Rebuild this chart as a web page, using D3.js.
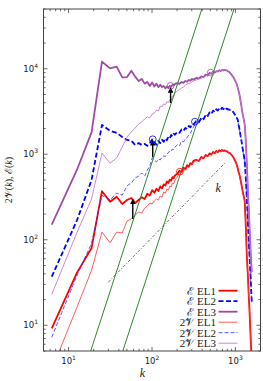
<!DOCTYPE html>
<html><head><meta charset="utf-8">
<script src="https://cdn.jsdelivr.net/npm/d3@7"></script>
<style>body{margin:0;background:#fff;} svg{display:block;}</style>
</head><body>
<svg id="c" width="263" height="381"></svg>
<script>
const kValues = [6.28,12.57,18.85,25.13,31.42,37.70,43.98,50.27,56.55,62.83,
69.12,75.40,81.68,87.96,94.25,100.5,106.8,113.1,119.4,125.7,
131.9,138.2,144.5,150.8,157.1,163.4,169.6,175.9,182.2,188.5,
201.1,213.6,226.2,238.8,251.3,263.9,276.5,289.0,301.6,314.2,
339.3,364.4,389.6,414.7,439.8,465.0,490.1,515.2,540.4,565.5,
590.6,615.8,640.9,666.0,691.2,716.3,741.4,766.5,791.7,816.8,
842.0,867.1,892.2,917.3,942.5,967.6,992.7,1018,1043,1068,
1093,1118,1144,1169,1194,1219,1244,1269,1294,1319,
1345,1370,1395,1420,1445,1470,1495,1520,1546,1571];

const eEL1 = [9.2,41,80,370,279,319,262,292,308,269,
292,315,300,345,330,380,355,395,372,420,
400,445,430,480,462,505,490,540,525,565,
590,640,620,695,670,745,720,785,765,835,
860,835,930,895,980,945,1025,990,1065,1025,
1095,1060,1115,1080,1125,1090,1110,1080,1085,1050,
1040,1020,990,960,925,880,840,800,740,680,
620,575,520,470,420,375,340,310,285,185,
114,66,47,34,22,16.5,11,7.6,5.3,3.7];

const eEL2 = [37,168,500,2200,1875,1775,1593,1470,1440,1285,
1350,1285,1320,1255,1350,1490,1390,1290,1440,1350,
1480,1400,1530,1460,1600,1540,1680,1620,1740,1690,
1830,1780,1950,1880,2030,1970,2140,2070,2240,2230,
2440,2360,2660,2560,2890,2790,3090,2970,3240,3120,
3360,3250,3440,3330,3500,3380,3490,3370,3420,3340,
3340,3290,3250,3180,3120,3000,2880,2760,2640,2530,
2200,1980,1720,1540,1350,1180,1050,940,840,620,
450,300,220,145,100,72,52,38,26,19];

const eEL3 = [150,655,1800,12100,10100,10600,7940,8000,9500,8090,
7200,7600,6700,7000,6300,6900,6200,6700,6100,6500,
6100,6300,5900,6200,6000,6300,6150,6460,6400,6650,
6800,6650,7000,6850,7200,7050,7400,7250,7600,7450,
7800,7650,8150,7950,8550,8350,8950,8750,9250,9050,
9400,9250,9600,9400,9700,9550,9700,9550,9550,9350,
9150,8900,8600,8300,8000,7650,7250,6900,6500,6000,
5500,5000,4400,3900,3400,3000,2700,2500,2200,1700,
1200,800,520,330,230,160,110,75,55,42];

const v2EL1 = [3.0,16.2,44,123,92,123,120,166,175,195,
211,205,235,248,269,262,285,300,290,325,
315,362,350,393,380,425,415,461,450,500,
540,610,600,660,650,715,700,760,750,810,
850,830,915,895,960,945,1010,990,1045,1025,
1080,1060,1100,1085,1110,1090,1100,1080,1075,1050,
1035,1015,985,955,920,875,835,795,735,675,
615,570,515,465,415,372,338,308,282,182,
112,65,46,33,21.5,16,10.8,7.5,5.2,3.6];

const v2EL2 = [7.25,38,91,330,292,352,333,427,461,528,
555,604,555,655,730,905,858,812,880,858,
930,956,940,1010,1040,1095,1080,1150,1130,1215,
1285,1255,1430,1400,1505,1560,1690,1760,1925,2080,
2330,2440,2560,2660,2790,2900,2980,3060,3160,3200,
3280,3320,3360,3400,3420,3450,3430,3420,3390,3370,
3330,3290,3240,3170,3110,2990,2870,2750,2630,2520,
2190,1970,1710,1530,1340,1170,1040,930,830,610,
445,295,215,142,98,70,51,37,25.5,18.5];

const v2EL3 = [23,121,300,1035,785,905,1215,1593,1825,2030,
2260,2380,2590,2740,2660,2950,3040,3300,3200,3670,
3600,3880,3800,4100,4050,4310,4250,4810,4700,5210,
5500,5700,5960,6100,6400,6650,6700,6830,7050,7200,
7400,7600,7750,8000,8200,8500,8600,8900,9100,9200,
9300,9350,9450,9550,9600,9650,9650,9600,9500,9300,
9100,8850,8550,8250,7950,7600,7200,6850,6450,5950,
5450,4950,4350,3850,3350,2950,2650,2450,2150,1650,
1150,770,500,320,225,155,105,72,52,40];

// reference lines (k^3 and k)
const cubeLineA = [[18.4,5],[396,50000]];
const cubeLineB = [[44.7,5],[963,50000]];
const linearLine = [[30,32],[750,790]];
const linearLabel = "k";

// arrows from 2V to E
const arrowK = [58.8, 102, 167];
const arrowFrom = [175, 923, 3980];
const arrowTo = [298, 1450, 6000];

// circle markers
const circleK = [216, 327, 507, 102, 167];
const circleV = [625, 2405, 9000, 1497, 6300];
const circleSeries = [0, 1, 2, 1, 2];

const xTickValues = [10, 100, 1000];
const yTickValues = [10, 100, 1000, 10000];
const legendLabels = ["ℰ EL1","ℰ EL2","ℰ EL3","2𝒱 EL1","2𝒱 EL2","2𝒱 EL3"];

const seriesStyles = [
  {color:"#ff0000", width:1.8, dash:null},
  {color:"#0000ff", width:1.8, dash:"5,2.5"},
  {color:"#a24aa8", width:1.8, dash:null},
  {color:"#ff3535", width:0.8, dash:null},
  {color:"#2a2aff", width:0.8, dash:"4,2"},
  {color:"#c87ccc", width:0.9, dash:null}
];
const seriesValues = [eEL1, eEL2, eEL3, v2EL1, v2EL2, v2EL3];

const svg = d3.select("#c");
const L = 43.5, R = 260.5, T = 9, B = 351;
const x = d3.scaleLog().domain([5, 2000]).range([L, R]);
const y = d3.scaleLog().domain([5, 50000]).range([B, T]);

svg.append("defs").append("clipPath").attr("id","clip")
  .append("rect").attr("x",L).attr("y",T).attr("width",R-L).attr("height",B-T);
const defs = svg.select("defs");
defs.append("marker").attr("id","ah").attr("viewBox","0 0 10 10")
  .attr("refX",9).attr("refY",5).attr("markerWidth",4).attr("markerHeight",4)
  .attr("orient","auto").append("path").attr("d","M0,0L10,5L0,10z").attr("fill","#000");

const line = d3.line().x(d=>x(d[0])).y(d=>y(d[1]));
const plot = svg.append("g").attr("clip-path","url(#clip)");

// series
seriesValues.forEach((vals,i)=>{
  const st = seriesStyles[i];
  plot.append("path").datum(kValues.map((k,j)=>[k, vals[j]]))
    .attr("d", line).attr("fill","none")
    .attr("stroke", st.color).attr("stroke-width", st.width)
    .attr("stroke-dasharray", st.dash).attr("stroke-linejoin","round");
});

// reference lines
[cubeLineA, cubeLineB].forEach(p=>{
  plot.append("path").datum(p).attr("d", line).attr("fill","none")
    .attr("stroke","#2b8b2b").attr("stroke-width",1);
});
plot.append("path").datum(linearLine).attr("d", line).attr("fill","none")
  .attr("stroke","#555").attr("stroke-width",0.8).attr("stroke-dasharray","3,1.5,1,1.5");
svg.append("text").attr("x", x(620)).attr("y", y(360)).attr("text-anchor","middle")
  .attr("font-family","Liberation Serif").attr("font-style","italic").attr("font-size",12)
  .attr("fill","#222").text(linearLabel);

// arrows
arrowK.forEach((k,i)=>{
  plot.append("line").attr("x1",x(k)).attr("x2",x(k))
    .attr("y1",y(arrowFrom[i])).attr("y2",y(arrowTo[i]))
    .attr("stroke","#000").attr("stroke-width",1.4).attr("marker-end","url(#ah)");
});
// circles
circleK.forEach((k,i)=>{
  plot.append("circle").attr("cx",x(k)).attr("cy",y(circleV[i])).attr("r",3.4)
    .attr("fill","none").attr("stroke",seriesStyles[circleSeries[i]].color).attr("stroke-width",0.8);
});

// frame
svg.append("rect").attr("x",L).attr("y",T).attr("width",R-L).attr("height",B-T)
  .attr("fill","none").attr("stroke","#444").attr("stroke-width",1);

// ticks
const xMinor = [], yMinor = [];
[1,10,100,1000].forEach(d=>{ for(let m=2;m<=9;m++){ const v=m*d; if(v>=5&&v<=2000&&!xTickValues.includes(v)) xMinor.push(v);} });
[1,10,100,1000,10000].forEach(d=>{ for(let m=2;m<=9;m++){ const v=m*d; if(v>=5&&v<=50000&&!yTickValues.includes(v)) yMinor.push(v);} });
const tk = svg.append("g").attr("stroke","#444").attr("stroke-width",0.8);
function xt(v,len){ tk.append("line").attr("x1",x(v)).attr("x2",x(v)).attr("y1",B).attr("y2",B-len);
  tk.append("line").attr("x1",x(v)).attr("x2",x(v)).attr("y1",T).attr("y2",T+len); }
function yt(v,len){ tk.append("line").attr("y1",y(v)).attr("y2",y(v)).attr("x1",L).attr("x2",L+len);
  tk.append("line").attr("y1",y(v)).attr("y2",y(v)).attr("x1",R).attr("x2",R-len); }
xTickValues.forEach(v=>xt(v,4)); xMinor.forEach(v=>xt(v,2.2));
yTickValues.forEach(v=>yt(v,4)); yMinor.forEach(v=>yt(v,2.2));

// tick labels
const tf = "DejaVu Sans";
xTickValues.forEach(v=>{
  const t = svg.append("text").attr("x",x(v)).attr("y",364).attr("text-anchor","middle")
    .attr("font-family",tf).attr("font-size",8.5).attr("fill","#222");
  t.append("tspan").text("10");
  t.append("tspan").attr("dy",-4).attr("font-size",6).text(String(Math.round(Math.log10(v))));
});
yTickValues.forEach(v=>{
  const t = svg.append("text").attr("x",38).attr("y",y(v)+3).attr("text-anchor","end")
    .attr("font-family",tf).attr("font-size",8.5).attr("fill","#222");
  t.append("tspan").text("10");
  t.append("tspan").attr("dy",-4).attr("font-size",6).text(String(Math.round(Math.log10(v))));
});

// axis labels
svg.append("text").attr("x",142.5).attr("y",377).attr("text-anchor","middle")
  .attr("font-family","Liberation Serif").attr("font-style","italic").attr("font-size",12)
  .attr("fill","#222").text("k");
const yl = svg.append("text").attr("transform","translate(12,180) rotate(-90)")
  .attr("text-anchor","middle").attr("font-family","Liberation Serif").attr("font-size",10).attr("fill","#222");
yl.append("tspan").text("2𝒱(");
yl.append("tspan").attr("font-style","italic").text("k");
yl.append("tspan").text("), ℰ(");
yl.append("tspan").attr("font-style","italic").text("k");
yl.append("tspan").text(")");

// legend
legendLabels.forEach((lab,i)=>{
  const yy = 290.7 + i*10.5;
  svg.append("text").attr("x",216).attr("y",yy+3.8).attr("text-anchor","end")
    .attr("font-family","Liberation Serif").attr("font-size",11).attr("fill","#222").text(lab);
  const st = seriesStyles[i];
  svg.append("line").attr("x1",218.5).attr("x2",237.5).attr("y1",yy).attr("y2",yy)
    .attr("stroke",st.color).attr("stroke-width",st.width).attr("stroke-dasharray",st.dash);
});
</script>
</body></html>
